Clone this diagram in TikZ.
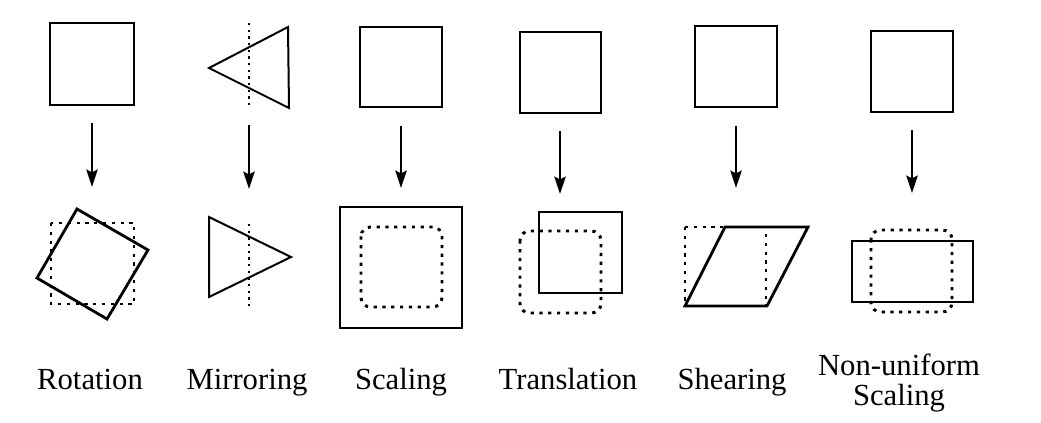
\documentclass[tikz,border=0pt]{standalone}
\usepackage{fontspec}
\setmainfont{Liberation Serif}
\usetikzlibrary{arrows.meta}
\usetikzlibrary{positioning}

\begin{document}
\begin{tikzpicture}[x=0.75pt, y=-0.75pt]
 \tikzstyle{box}=[draw, line width=1.5pt]
 \tikzstyle{bbox}=[draw, line width=2.1pt]
 \tikzstyle{dot}=[draw, line width=2.2pt, dash pattern=on 2.4pt off 4.2pt]
 \tikzstyle{thindot}=[draw, line width=1.5pt, dash pattern=on 1.8pt off 3.2pt]
 \tikzstyle{line}=[draw, line width=1.6pt, -{Stealth[length=13pt, width=8.5pt, inset=2pt]}]
 \tikzstyle{lbl}=[anchor=base, font=\fontsize{23}{22.5}\selectfont, inner sep=0pt]

 \useasboundingbox (0,0) rectangle (1041,422);

 % rotation
 \path[box] (50,23) rectangle (134,105);
 \coordinate (rot1) at (92,123);
 \coordinate (rot2) at (92,187);
 \path[line] (rot1) -- (rot2);
 \path[dot] (51,223) rectangle (134,304);
 \path[bbox] (77,209) -- (148,250) -- (107,319) -- (37,278) -- cycle;
 \node[lbl] (rot) at (90,389) {Rotation};

 % mirroring
 \path[thindot] (249,23) -- (249,106);
 \path[box] (209,68) -- (288,27) -- (289,108) -- cycle;
 \coordinate (mir1) at (249,125);
 \coordinate (mir2) at (249,189);
 \path[line] (mir1) -- (mir2);
 \path[box] (209,217) -- (291,257) -- (209,297) -- cycle;
 \path[thindot] (249,224) -- (249,306);
 \node[lbl] (mir) at (247,389) {Mirroring};

 % scaling
 \path[box] (360,27) rectangle (442,107);
 \coordinate (sca1) at (401,126);
 \coordinate (sca2) at (401,188);
 \path[line] (sca1) -- (sca2);
 \path[bbox] (340,207) rectangle (462,328);
 \path[dot, rounded corners=7pt] (361,227) rectangle (442,307);
 \node[lbl] (sca) at (401,389) {Scaling};

 % translation
 \path[box] (520,32) rectangle (601,113);
 \coordinate (tra1) at (560,131);
 \coordinate (tra2) at (560,194);
 \path[line] (tra1) -- (tra2);
 \path[dot, rounded corners=7pt] (520,231) rectangle (601,313);
 \path[bbox] (539,212) rectangle (622,293);
 \node[lbl] (tra) at (568,389) {Translation};

 % shearing
 \path[box] (695,26) rectangle (777,107);
 \coordinate (she1) at (736,126);
 \coordinate (she2) at (736,188);
 \path[line] (she1) -- (she2);
 \path[dot] (685,227) rectangle (766,306);
 \path[bbox] (725,227) -- (808,227) -- (767,306) -- (685,306) -- cycle;
 \node[lbl] (she) at (732,389) {Shearing};

 % non-uniform scaling
 \path[box] (871,31) rectangle (953,112);
 \coordinate (non1) at (912,130);
 \coordinate (non2) at (912,193);
 \path[line] (non1) -- (non2);
 \path[dot, rounded corners=7pt] (871,230) rectangle (952,312);
 \path[bbox] (852,241) rectangle (973,302);
 \node[lbl, align=center] (non) at (899,405) {Non-uniform\\Scaling};

\end{tikzpicture}
\end{document}
